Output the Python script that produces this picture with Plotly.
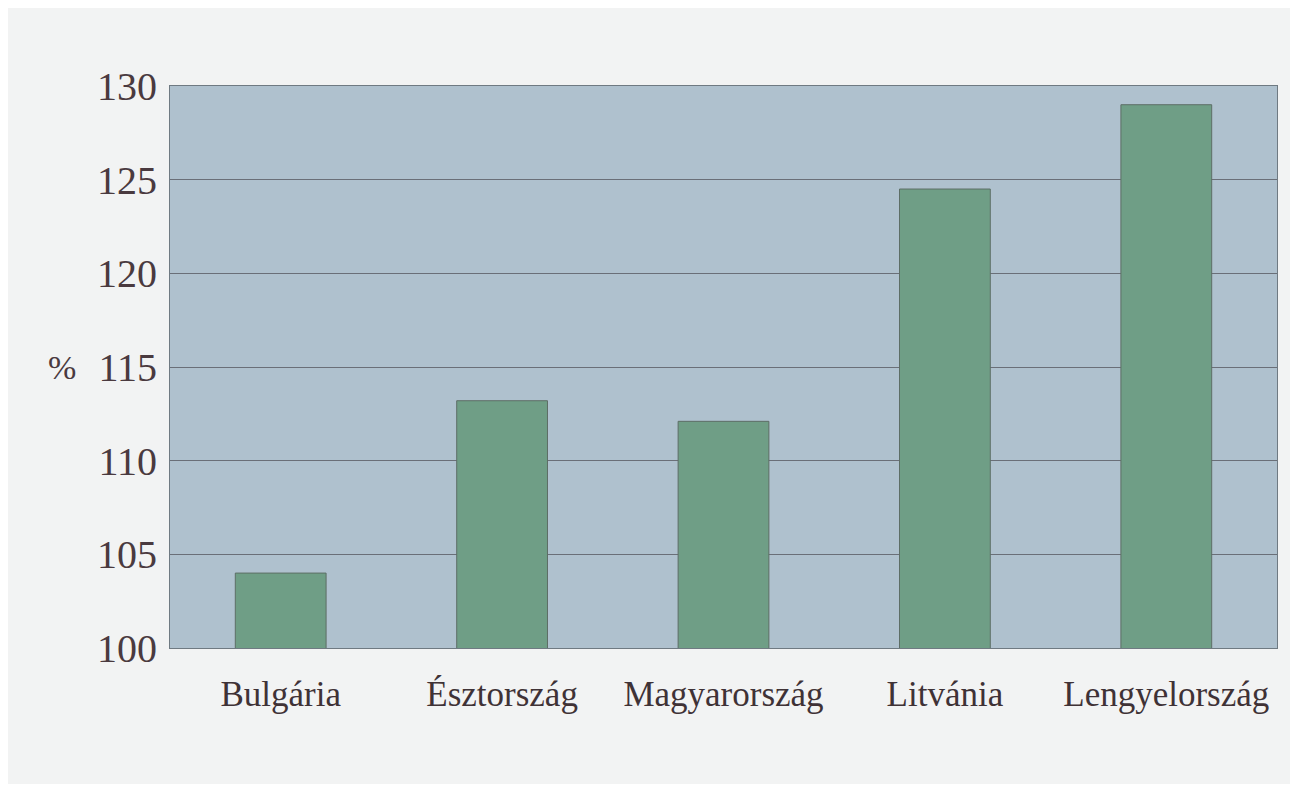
import plotly.graph_objects as go

countries = ["Bulgária", "Észtország", "Magyarország", "Litvánia", "Lengyelország"]
values = [104.0, 113.2, 112.1, 124.5, 129.0]
y_ticks = [100, 105, 110, 115, 120, 125, 130]

SERIF = "Liberation Serif, DejaVu Serif, serif"

fig = go.Figure()
fig.add_trace(go.Bar(
    x=countries, y=values,
    marker=dict(color="#6f9e86", line=dict(color="#5d6e66", width=1)),
    width=0.41,
))

fig.add_annotation(text="%", xref="paper", yref="y", x=0, y=115,
                   xshift=-108, showarrow=False, xanchor="center",
                   font=dict(family=SERIF, size=34, color="#4a3a3f"))

fig.update_layout(
    width=1282, height=776,
    margin=dict(l=162, r=13, t=78, b=136),
    paper_bgcolor="#f2f3f3",
    plot_bgcolor="#afc1ce",
    showlegend=False,
    font=dict(family=SERIF, color="#4a3a3f"),
    xaxis=dict(
        tickfont=dict(size=35, color="#3f3236"),
        ticks="", showgrid=False, showline=True, linecolor="#6f7a82", linewidth=1, mirror=True,
        ticklabelstandoff=15,
    ),
    yaxis=dict(
        range=[100, 130], tickvals=y_ticks,
        tickfont=dict(size=40, color="#4a3a3f"),
        showgrid=True, gridcolor="#6a6f78", gridwidth=1,
        showline=True, linecolor="#6f7a82", linewidth=1, mirror=True,
        ticks="", ticklabelstandoff=4, zeroline=False,
    ),
)

fig.write_html("out.html")
